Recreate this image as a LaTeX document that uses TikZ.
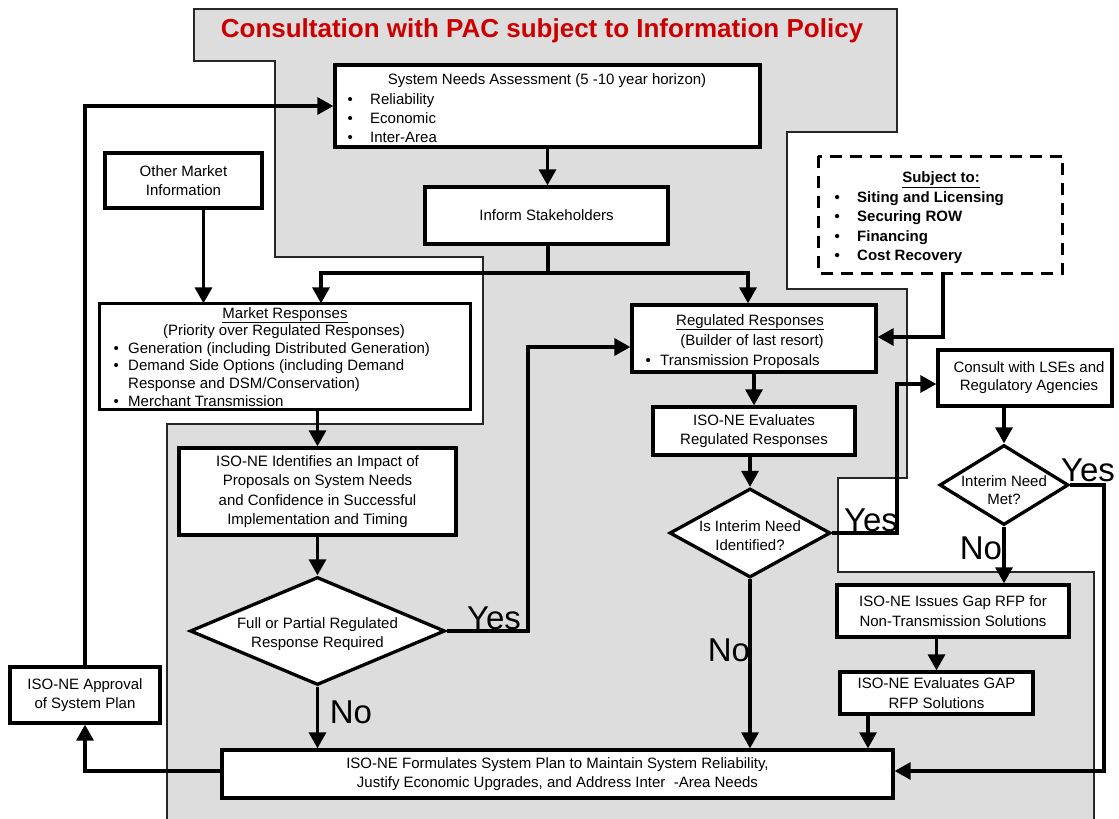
\documentclass[tikz,border=0pt]{standalone}
\usepackage{fontspec}
\setmainfont{Liberation Sans}
\usetikzlibrary{arrows.meta,shapes.geometric}
\definecolor{bggrey}{RGB}{221,221,221}
\definecolor{titlered}{RGB}{204,0,0}
\newcommand\bxfont{\fontsize{15}{19.5}\selectfont}
\newcommand\mkfont{\fontsize{15}{17.5}\selectfont}
\newcommand\ynfont{\fontsize{33}{33}\selectfont}
\begin{document}
\begin{tikzpicture}[x=1pt,y=-1pt,
  box/.style={draw, line width=3.3pt, fill=white, inner sep=0pt, align=center, font=\bxfont},
  dia/.style={draw, diamond, line width=3.3pt, fill=white, inner sep=0pt},
  t/.style={font=\bxfont, inner sep=0pt},
  tb/.style={font=\bxfont\bfseries, inner sep=0pt},
  conn/.style={line width=3.3pt, -{Triangle[width=17pt,length=16pt]}},
  ln/.style={line width=3.3pt},
  yn/.style={font=\ynfont, inner sep=0pt},
  region/.style={draw=black!85, line width=1.1pt},
]
\useasboundingbox (0,0) rectangle (1119,819);

% grey consultation region
\fill[bggrey] (194,9) -- (897,9) -- (897,132) -- (787,132) -- (787,289) -- (907,289) -- (907,478) -- (838,478) -- (838,572) -- (1094,572) -- (1094,819) -- (167,819) -- (167,424) -- (483,424) -- (483,257) -- (275,257) -- (275,61) -- (194,61) -- cycle;
\draw[region] (1094,819) -- (1094,572) -- (838,572) -- (838,478) -- (907,478) -- (907,289) -- (787,289) -- (787,132) -- (897,132) -- (897,9) -- (194,9) -- (194,61) -- (275,61) -- (275,257) -- (483,257) -- (483,424) -- (167,424) -- (167,819);

\node[font=\bfseries\fontsize{26}{26}\selectfont, text=titlered, inner sep=0pt, anchor=base] (title) at (542,37) {Consultation with PAC subject to Information Policy};

% boxes
\node[box, minimum width=425pt, minimum height=82pt] (sna) at (547.5,106) {};
\node[box, minimum width=243pt, minimum height=57pt] (inform) at (546.5,215.5) {Inform Stakeholders};
\node[box, minimum width=157pt, minimum height=55pt] (other) at (183.5,180.5) {Other Market\\Information};
\node[box, draw=none, minimum width=368pt, minimum height=103pt] (market) at (285,356.5) {};
\node[box, minimum width=244pt, minimum height=67pt] (reg) at (754,338.5) {};
\node[box, draw=none, minimum width=241pt, minimum height=114pt] (subj) at (940.5,215) {};
\draw[line width=3.3pt, dash pattern=on 12pt off 8pt] (subj.north west) rectangle (subj.south east);
\node[box, minimum width=202pt, minimum height=48pt] (evalreg) at (754,431) {ISO-NE Evaluates\\Regulated Responses};
\node[box, minimum width=174pt, minimum height=56pt, font=\fontsize{15}{18}\selectfont] (consult) at (1025,378) {\hspace*{8pt}Consult with LSEs and\\\hspace*{8pt}Regulatory Agencies};
\node[box, minimum width=277pt, minimum height=87pt] (identify) at (317.5,491.5) {ISO-NE Identifies an Impact of\\Proposals on System Needs\\and Confidence in Successful\\Implementation and Timing};
\node[dia, minimum width=255pt, minimum height=108pt] (d1) at (317.5,631) {};
\node[t, align=center] (d1t) at (317.5,634) {Full or Partial Regulated\\Response Required};
\node[dia, minimum width=161pt, minimum height=89pt] (d2) at (750,533) {};
\node[t, align=center] (d2t) at (750,535.5) {Is Interim Need\\Identified?};
\node[dia, minimum width=129pt, minimum height=80pt] (d3) at (1004,485) {};
\node[t, align=center, font=\fontsize{15}{18}\selectfont] (d3t) at (1004,490) {Interim Need\\Met?};
\node[box, minimum width=232pt, minimum height=52pt] (gaprfp) at (953,611) {ISO-NE Issues Gap RFP for\\Non-Transmission Solutions};
\node[box, minimum width=193pt, minimum height=42pt] (gapeval) at (936.5,693) {ISO-NE Evaluates GAP\\RFP Solutions};
\node[box, minimum width=671pt, minimum height=48pt] (formulate) at (557.5,774) {ISO-NE Formulates System Plan to Maintain System Reliability,\\Justify Economic Upgrades, and Address Inter\ \ -Area Needs};
\node[box, minimum width=150pt, minimum height=56pt] (approval) at (85,695) {ISO-NE Approval\\of System Plan};

% texts of list boxes
\node[t, anchor=base] (sna-1) at (547,84) {System Needs Assessment (5 -10 year horizon)};
\node[t, anchor=base west] (sna-2) at (347.4,104) {\makebox[22.6pt][l]{\textbullet}Reliability};
\node[t, anchor=base west] (sna-3) at (347.4,123) {\makebox[22.6pt][l]{\textbullet}Economic};
\node[t, anchor=base west] (sna-4) at (347.4,142) {\makebox[22.6pt][l]{\textbullet}Inter-Area};

\node[t, anchor=base] (mk-1) at (285,318) {\underline{Market Responses}};
\node[t, anchor=base] (mk-2) at (284,335.5) {(Priority over Regulated Responses)};
\node[t, anchor=base west] (mk-3) at (113.4,353) {\makebox[14.6pt][l]{\textbullet}Generation (including Distributed Generation)};
\node[t, anchor=base west] (mk-4) at (113.4,370.5) {\makebox[14.6pt][l]{\textbullet}Demand Side Options (including Demand};
\node[t, anchor=base west] (mk-5) at (128,388) {Response and DSM/Conservation)};
\node[t, anchor=base west] (mk-6) at (113.4,406.5) {\makebox[14.6pt][l]{\textbullet}Merchant Transmission};
\draw[line width=3.3pt] (market.north west) rectangle (market.south east);

\node[t, anchor=base] (rg-1) at (750,325) {\underline{Regulated Responses}};
\node[t, anchor=base] (rg-2) at (752,345) {(Builder of last resort)};
\node[t, anchor=base west] (rg-3) at (645.4,365) {\makebox[14.6pt][l]{\textbullet}Transmission Proposals};

\node[tb, anchor=base] (sj-1) at (941,182.5) {\underline{Subject to:}};
\node[tb, anchor=base west] (sj-2) at (834.4,202) {\makebox[22.6pt][l]{\textbullet}Siting and Licensing};
\node[tb, anchor=base west] (sj-3) at (834.4,221.5) {\makebox[22.6pt][l]{\textbullet}Securing ROW};
\node[tb, anchor=base west] (sj-4) at (834.4,241) {\makebox[22.6pt][l]{\textbullet}Financing};
\node[tb, anchor=base west] (sj-5) at (834.4,260.5) {\makebox[22.6pt][l]{\textbullet}Cost Recovery};

% connectors
\draw[conn] (approval.north) |- (sna.west);
\draw[conn] (sna.south) -- (sna.south |- inform.north);
\coordinate (split) at (548,273);
\draw[ln] (inform.south -| split) -- (split);
\draw[conn] (split) -| ([xshift=36pt]market.north);
\draw[conn] (split) -| ([xshift=-6pt]reg.north);
\draw[conn] ([xshift=20pt]other.south) -- ([xshift=20pt]other.south |- market.north);
\draw[conn] (identify.north |- market.south) -- (identify.north);
\draw[conn] (identify.south) -- (d1.north);
\coordinate (yesA) at (528,347);
\draw[conn] (d1.east) -| (yesA) -- (reg.west |- yesA);
\draw[conn] (d1.south) -- (d1.south |- formulate.north);
\draw[conn] (reg.south -| evalreg.north) -- (evalreg.north);
\draw[conn] (evalreg.south -| d2.north) -- (d2.north);
\draw[conn] (d2.south) -- (d2.south |- formulate.north);
\coordinate (yesB) at (897,384);
\draw[conn] (d2.east) -| (yesB) -- (consult.west |- yesB);
\coordinate (sj) at (943,337);
\draw[conn] (subj.south -| sj) -- (sj) -- (reg.east |- sj);
\draw[conn] (consult.south -| d3.north) -- (d3.north);
\coordinate (yesC) at (1104,771);
\draw[conn] (d3.east) -| (yesC) -- (formulate.east |- yesC);
\draw[conn] (d3.south) -- (d3.south |- gaprfp.north);
\draw[conn] (gaprfp.south -| gapeval.north) -- (gapeval.north);
\coordinate (ge) at (868,0);
\draw[conn] (gapeval.south -| ge) -- (formulate.north -| ge);
\draw[conn] (formulate.west |- yesC) -| (approval.south);

% yes / no labels
\node[yn] (yes1) at (494,618) {Yes};
\node[yn] (no1) at (351,712) {No};
\node[yn] (no2) at (729,650) {No};
\node[yn] (yes2) at (871,520) {Yes};
\node[yn] (yes3) at (1088,470) {Yes};
\node[yn] (no3) at (981,548) {No};
\end{tikzpicture}
\end{document}
